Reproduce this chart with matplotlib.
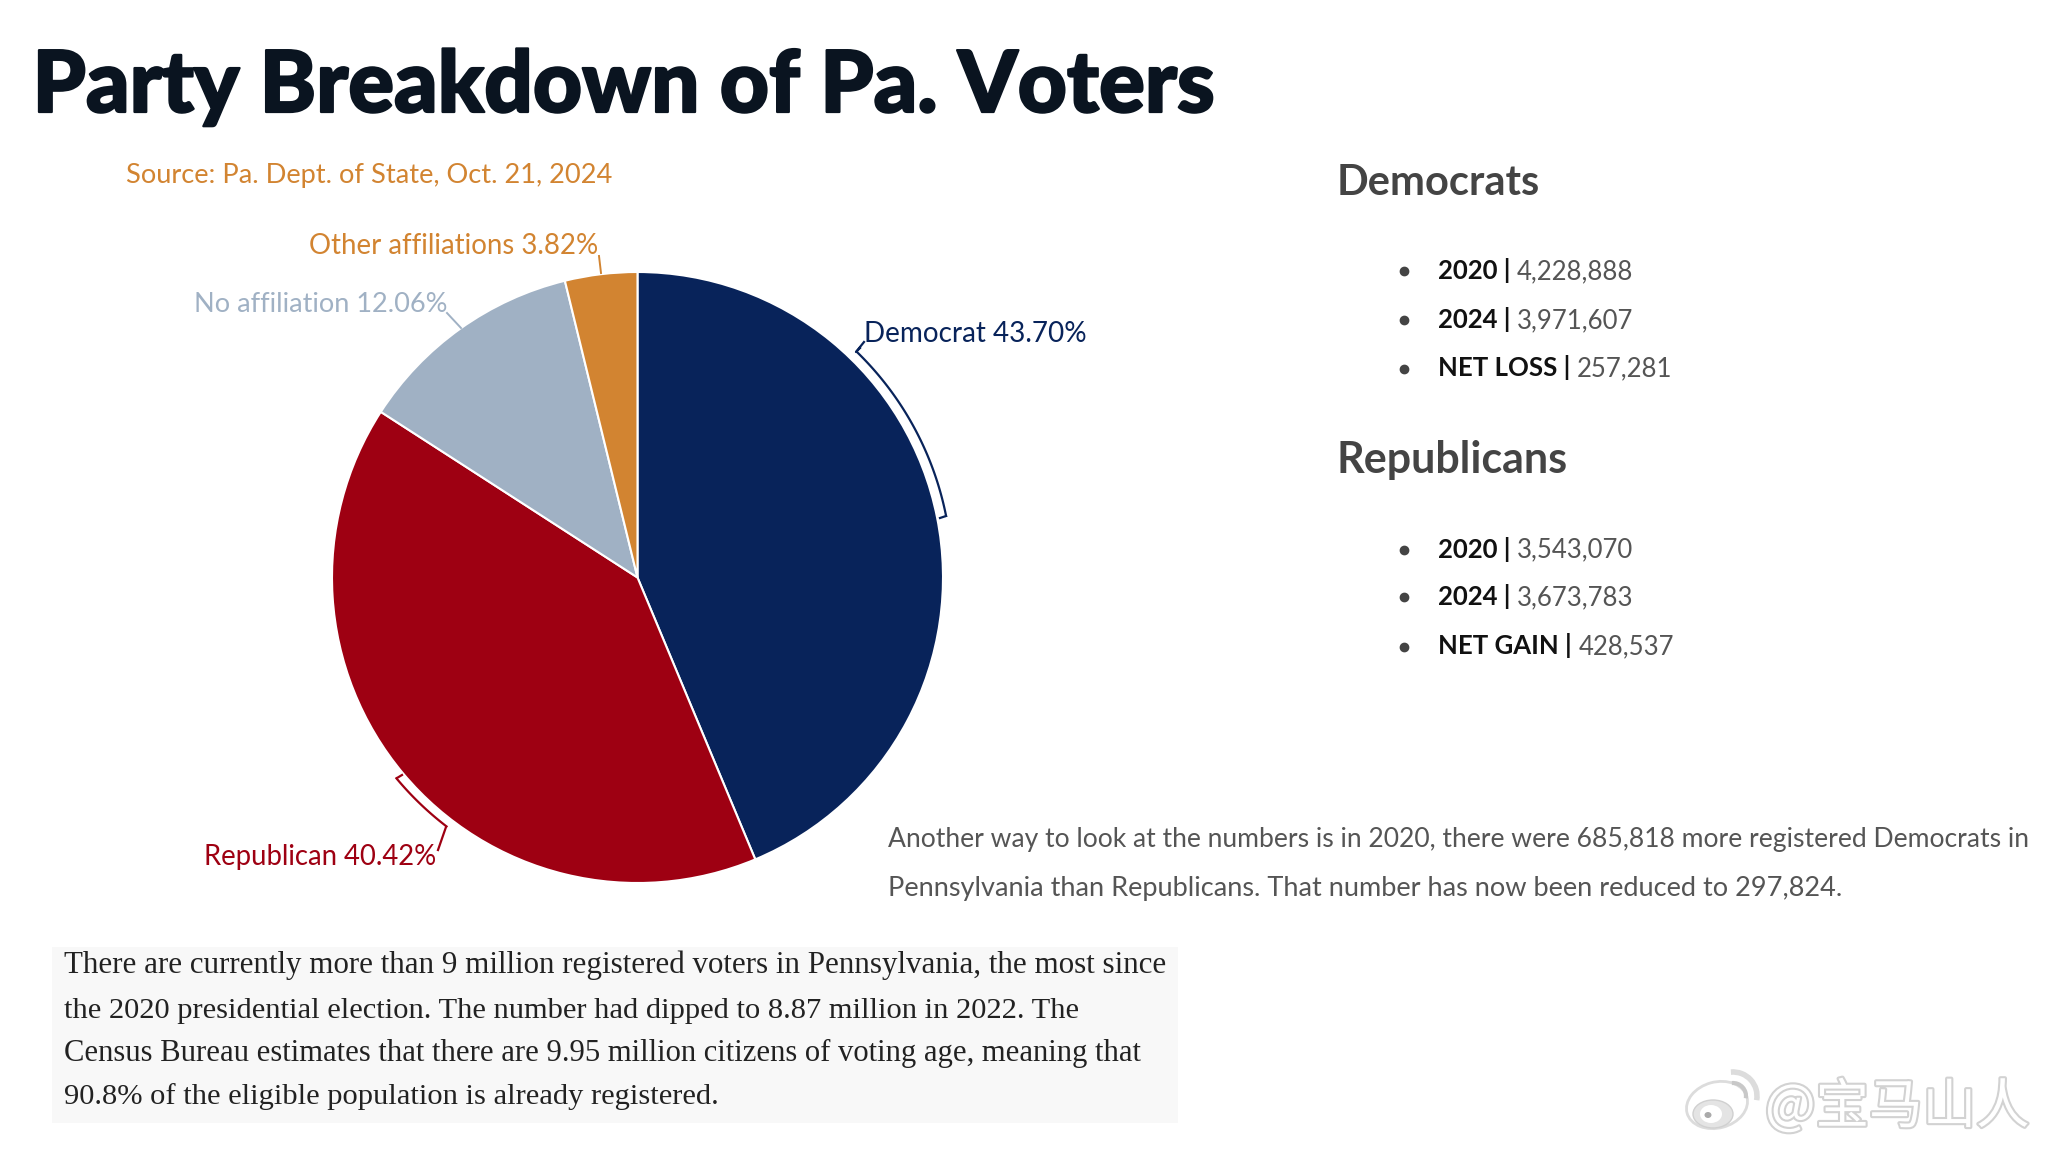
import numpy as np
import matplotlib.pyplot as plt
from matplotlib import patheffects as pe
from matplotlib.patches import Ellipse, Arc, Rectangle

W, H = 2048, 1152

# pie
parties = ["Democrat", "Republican", "No affiliation", "Other affiliations"]
shares = [43.70, 40.42, 12.06, 3.82]
colors = ["#08235a", "#9e0012", "#a0b1c4", "#d28431"]

# side lists
dem_rows = [("2020", "4,228,888"), ("2024", "3,971,607"), ("NET LOSS", "257,281")]
rep_rows = [("2020", "3,543,070"), ("2024", "3,673,783"), ("NET GAIN", "428,537")]

para_right = ["Another way to look at the numbers is in 2020, there were 685,818 more registered Democrats in",
              "Pennsylvania than Republicans. That number has now been reduced to 297,824."]
para_box = ["There are currently more than 9 million registered voters in Pennsylvania, the most since",
            "the 2020 presidential election. The number had dipped to 8.87 million in 2022. The",
            "Census Bureau estimates that there are 9.95 million citizens of voting age, meaning that",
            "90.8% of the eligible population is already registered."]

fig = plt.figure(figsize=(W / 100, H / 100), dpi=100, facecolor="white")

cx, cy, r = 637.5, 577.5, 305.5
ax_pie = fig.add_axes([(cx - r) / W, 1 - (cy + r) / H, 2 * r / W, 2 * r / H])
ax_pie.pie(shares, colors=colors, startangle=90, counterclock=False,
           wedgeprops={"edgecolor": "white", "linewidth": 1.5})
ax_pie.set_xlim(-1, 1)
ax_pie.set_ylim(-1, 1)
ax_pie.set_axis_off()


def bracket(start, end, color, rad):
    # arc just outside the pie, angles clockwise from the top
    t = np.radians(np.linspace(start, end, 80))
    ax_pie.plot(rad * np.sin(t), rad * np.cos(t), color=color, lw=1.6, clip_on=False)


bracket(44.2, 78.7, colors[0], 1.03)
bracket(217.5, 230.2, colors[1], 1.027)

# page overlay in pixels
ax = fig.add_axes([0, 0, 1, 1])
ax.set_xlim(0, W)
ax.set_ylim(H, 0)
ax.set_axis_off()
ax.patch.set_alpha(0)

renderer = fig.canvas.get_renderer()


def fit_text(x, right, y, s, size, **kw):
    # shrink or grow the font so the line ends where it does in the reference
    t = ax.text(x, y, s, fontsize=size, **kw)
    bb = t.get_window_extent(renderer)
    t.set_fontsize(size * (right - x) / bb.width)
    return t


title_color = "#0a1420"
ax.text(32.5, 112, "Party Breakdown of Pa. Voters", fontsize=61.4, family="Lato", weight="black", color=title_color,
        path_effects=[pe.withStroke(linewidth=1.6, foreground=title_color)])
fit_text(126, 612.5, 183, "Source: Pa. Dept. of State, Oct. 21, 2024", 19.6, family="Lato", color=colors[3])

fit_text(309, 598, 254, f"{parties[3]} {shares[3]:.2f}%", 20, family="Lato", color=colors[3])
fit_text(194, 447, 312, f"{parties[2]} {shares[2]:.2f}%", 20, family="Lato", color=colors[2])
fit_text(864, 1087, 342, f"{parties[0]} {shares[0]:.2f}%", 20, family="Lato", color=colors[0])
fit_text(204, 437.5, 865, f"{parties[1]} {shares[1]:.2f}%", 20, family="Lato", color=colors[1])

# leaders and bracket ticks
ax.plot([599, 601], [256, 273], color=colors[3], lw=1.4)
ax.plot([447, 461], [313, 328], color=colors[2], lw=1.4)
ax.plot([864, 856, 860], [342, 352, 348], color=colors[0], lw=1.6)
ax.plot([946, 940], [516, 518], color=colors[0], lw=1.6)
ax.plot([446, 438], [827, 850], color=colors[1], lw=1.6)
ax.plot([397, 402], [778, 775], color=colors[1], lw=1.6)


def side_block(title, title_right, rows, title_y, row_ys):
    fit_text(1336.5, title_right, title_y, title, 30.5, family="Lato", weight="bold", color="#444444")
    for (lab, val), y in zip(rows, row_ys):
        ax.plot([1404], [y - 8], "o", color="#444444", ms=6)
        t = ax.text(1438.5, y, lab + " |", fontsize=18.5, family="Lato", weight="bold", color="#111111")
        bb = t.get_window_extent(renderer)
        ax.text(bb.x1 + 6, y, val, fontsize=18.5, family="Lato", color="#555555")


side_block("Democrats", 1540, dem_rows, 195, [279, 328, 376.5])
side_block("Republicans", 1568, rep_rows, 473, [557.5, 605, 654.5])

for line, right, y in zip(para_right, [2030, 1843], [847, 896]):
    fit_text(888.5, right, y, line, 19.5, family="Lato", color="#555555")

ax.add_patch(Rectangle((52, 947), 1126, 176, facecolor="#f8f8f8", edgecolor="none", zorder=0))
for line, right, y in zip(para_box, [1165, 1076, 1139, 716], [973.5, 1017.5, 1060.5, 1103.5]):
    fit_text(64, right, y, line, 22, family="Liberation Serif", color="#222222")

# watermark
halo = [pe.withStroke(linewidth=3, foreground="#d2d2d2")]
ax.text(1765, 1123, "@宝马山人", fontsize=38.5, family=["Noto Sans CJK SC", "DejaVu Sans"],
        color="white", path_effects=halo, zorder=5)
ax.add_patch(Ellipse((1717, 1105), 62, 46, angle=-15, facecolor="white", edgecolor="#dcdcdc", lw=2, zorder=5))
ax.add_patch(Ellipse((1713, 1114), 40, 28, facecolor="#e4e4e4", edgecolor="#d0d0d0", lw=1, zorder=6))
ax.add_patch(Ellipse((1711, 1114), 22, 18, facecolor="white", edgecolor="none", zorder=7))
ax.add_patch(Ellipse((1708, 1115), 7, 6, facecolor="#aaaaaa", edgecolor="none", zorder=8))
ax.add_patch(Arc((1733, 1096), 48, 48, theta1=-95, theta2=10, color="#dcdcdc", lw=4, zorder=5))
ax.add_patch(Arc((1733, 1096), 26, 26, theta1=-95, theta2=10, color="#c8c8c8", lw=3, zorder=5))

fig.savefig("out.png", dpi=100)
